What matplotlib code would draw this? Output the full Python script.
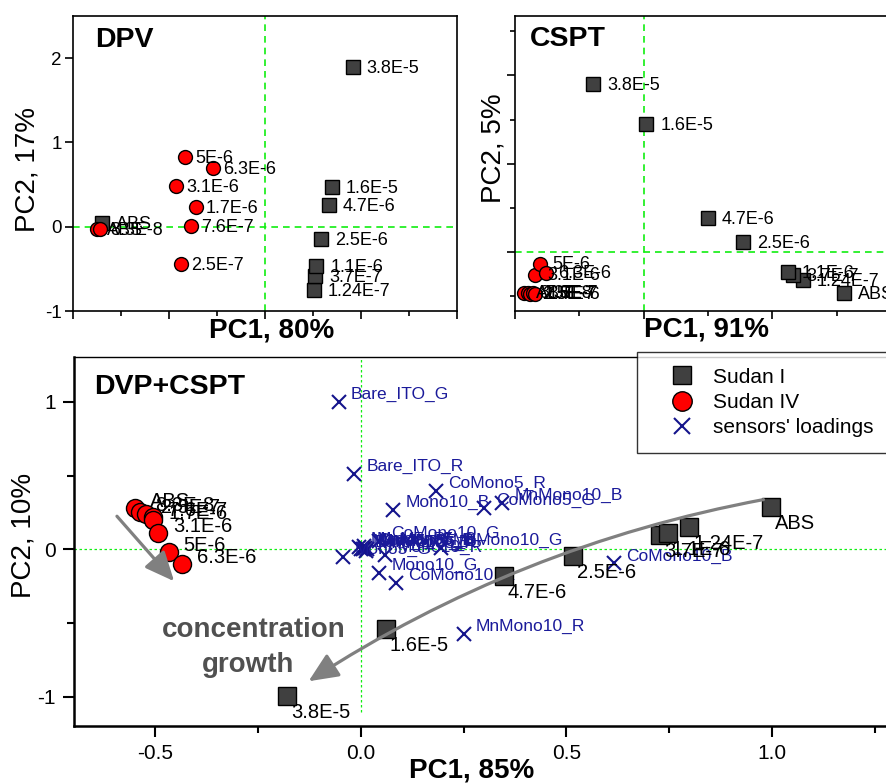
import matplotlib
matplotlib.use("Agg")
import matplotlib.pyplot as plt
from matplotlib.patches import FancyArrowPatch
from matplotlib.lines import Line2D

plt.rcParams['font.family'] = ['Liberation Sans', 'DejaVu Sans']
plt.rcParams['axes.unicode_minus'] = False

W, H = 886, 783

# ---- DPV scores ----
dpv_s1_lab = ['ABS', '1.24E-7', '3.7E-7', '1.1E-6', '2.5E-6', '4.7E-6', '1.6E-5', '3.8E-5']
dpv_s1_x = [-1.70, 0.507, 0.521, 0.535, 0.580, 0.663, 0.694, 0.913]
dpv_s1_y = [0.04, -0.754, -0.587, -0.468, -0.151, 0.258, 0.476, 1.893]
dpv_s4_lab = ['ABS', '8.3E-8', '2.5E-7', '7.6E-7', '1.7E-6', '3.1E-6', '5E-6', '6.3E-6']
dpv_s4_x = [-1.753, -1.719, -0.878, -0.774, -0.722, -0.927, -0.830, -0.538]
dpv_s4_y = [-0.032, -0.032, -0.444, 0.008, 0.230, 0.484, 0.833, 0.694]

# ---- CSPT scores ----
cspt_s1_lab = dpv_s1_lab
cspt_s1_x = [1.559, 1.235, 1.157, 1.119, 0.77, 0.50, 0.02, -0.39]
cspt_s1_y = [-0.469, -0.321, -0.264, -0.226, 0.11, 0.38, 1.45, 1.90]
cspt_s4_lab = dpv_s4_lab
cspt_s4_x = [-0.927, -0.902, -0.881, -0.863, -0.842, -0.842, -0.803, -0.759]
cspt_s4_y = [-0.464, -0.464, -0.472, -0.464, -0.479, -0.264, -0.131, -0.238]

# ---- DPV+CSPT biplot ----
bi_s1_lab = dpv_s1_lab
bi_s1_x = [0.998, 0.799, 0.728, 0.747, 0.515, 0.348, 0.061, -0.179]
bi_s1_y = [0.289, 0.153, 0.097, 0.112, -0.045, -0.181, -0.542, -0.994]
bi_s4_lab = dpv_s4_lab
bi_s4_x = [-0.549, -0.537, -0.522, -0.506, -0.505, -0.494, -0.468, -0.436]
bi_s4_y = [0.278, 0.255, 0.239, 0.221, 0.199, 0.112, -0.016, -0.100]

sensor_lab = ['Bare_ITO_G', 'Bare_ITO_R', 'CoMono5_R', 'Mono10_B', 'CoMono5_G', 'MnMono10_B',
              'MnMono10_R', 'CoMono10_B', 'CoMono10_R', 'Mono10_G', 'Mono5_G',
              'Mono5_R', 'Mono5_B', 'Bare_ITO_B', 'CoMono5_B', 'MnMono5_R', 'MnMono5_G',
              'MnMono5_B', 'Mono10_R', 'CoMono10_G', 'MnMono10_G']
sensor_x = [-0.054, -0.016, 0.183, 0.079, 0.300, 0.344,
            0.251, 0.616, 0.086, 0.045, -0.044,
            -0.005, 0.000, 0.005, 0.010, 0.012, 0.008,
            0.015, 0.059, 0.045, 0.195]
sensor_y = [1.000, 0.510, 0.397, 0.266, 0.282, 0.316,
            -0.574, -0.095, -0.226, -0.159, -0.050,
            0.015, 0.005, 0.000, 0.012, -0.008, 0.020,
            0.005, -0.039, 0.060, 0.010]

# arrows (start, end) in PC units
arrow_s1 = [(0.986, 0.341), (-0.133, -0.904)]
arrow_s4 = [(-0.598, 0.239), (-0.450, -0.230)]

SQ = dict(marker='s', mfc='#404040', mec='black', mew=1.0, ls='none')
CI = dict(marker='o', mfc='#ff0000', mec='black', mew=1.0, ls='none')
GREEN = '#11ee11'
BLUE = '#1a1a9a'
PX = 0.72  # points per pixel at dpi 100


def box(l, t, w, h):
    return [l / W, 1 - (t + h) / H, w / W, h / H]


def label_points(ax, xs, ys, labs, dx, dy, fs, color='black'):
    for x, y, s in zip(xs, ys, labs):
        ax.annotate(s, (x, y), xytext=(dx * PX, dy * PX), textcoords='offset points',
                    ha='left', va='baseline', fontsize=fs, color=color)


fig = plt.figure(figsize=(W / 100, H / 100), dpi=100)

# ======= DPV =======
ax1 = fig.add_axes(box(73, 16, 384, 295))
ax1.set_xlim(-2, 2)
ax1.set_ylim(-1, 2.5)
ax1.axhline(0, color=GREEN, lw=1.2, ls=(0, (4, 3)), zorder=1)
ax1.axvline(0, color=GREEN, lw=1.2, ls=(0, (4, 3)), zorder=1)
ax1.plot(dpv_s1_x, dpv_s1_y, ms=9.5, **SQ, zorder=3)
ax1.plot(dpv_s4_x, dpv_s4_y, ms=10, **CI, zorder=3)
label_points(ax1, dpv_s1_x, dpv_s1_y, dpv_s1_lab, 14, -6, 13)
label_points(ax1, dpv_s4_x, dpv_s4_y, dpv_s4_lab, 10, -6, 13)
ax1.set_xticks([-2, -1, 0, 1, 2])
ax1.set_xticks([-1.5, -0.5, 0.5, 1.5], minor=True)
ax1.set_xticklabels([])
ax1.set_yticks([-1, 0, 1, 2])
ax1.set_yticklabels(['-1', '0', '1', '2'])

# ======= CSPT =======
ax2 = fig.add_axes(box(515, 16, 386, 295))
ax2.set_xlim(-1, 2)
ax2.set_ylim(-0.668, 2.672)
ax2.axhline(0, color=GREEN, lw=1.2, ls=(0, (4, 3)), zorder=1)
ax2.axvline(0, color=GREEN, lw=1.2, ls=(0, (4, 3)), zorder=1)
ax2.plot(cspt_s1_x, cspt_s1_y, ms=9.5, **SQ, zorder=3)
ax2.plot(cspt_s4_x, cspt_s4_y, ms=10, **CI, zorder=3)
label_points(ax2, cspt_s1_x, cspt_s1_y, cspt_s1_lab, 14, -6, 13)
label_points(ax2, cspt_s4_x, cspt_s4_y, cspt_s4_lab, 12, -5, 13)
ax2.set_xticks([-1, 0, 1, 2])
ax2.set_xticks([-0.5, 0.5, 1.5], minor=True)
ax2.set_yticks([0, 1, 2])
ax2.set_yticks([-0.5, 0.5, 1.5, 2.5], minor=True)
ax2.set_xticklabels([])
ax2.set_yticklabels([])

for ax in (ax1, ax2):
    for sp in ax.spines.values():
        sp.set_linewidth(1.2)
    ax.tick_params(which='major', direction='out', length=6, width=1.2, labelsize=13.5, pad=2)
    ax.tick_params(which='minor', direction='out', length=3.5, width=1.2)

# ======= DPV + CSPT =======
ax3 = fig.add_axes(box(74, 357, 841, 369))
ax3.set_xlim(-0.698, 1.348)
ax3.set_ylim(-1.197, 1.304)
ax3.axhline(0, color=GREEN, lw=0.9, ls=(0, (2, 2)), zorder=1)
ax3.plot([0, 0], [-1.1, 1.304], color=GREEN, lw=0.9, ls=(0, (2, 2)), zorder=1)
ax3.plot(sensor_x, sensor_y, ls='none', marker='x', ms=10, mew=1.5, color='#14148c', zorder=3)
label_points(ax3, sensor_x, sensor_y, sensor_lab, 12, 3, 12.5, color=BLUE)
ax3.plot(bi_s1_x, bi_s1_y, ms=12.5, **SQ, zorder=4)
ax3.plot(bi_s4_x, bi_s4_y, ms=13, **CI, zorder=4)
label_points(ax3, bi_s1_x, bi_s1_y, bi_s1_lab, 4, -22, 14.5)
label_points(ax3, bi_s4_x, bi_s4_y, bi_s4_lab, 15, 1, 14.5)

for (p0, p1), rad in ((arrow_s1, 0.10), (arrow_s4, 0.0)):
    arr = FancyArrowPatch(p0, p1, connectionstyle=f'arc3,rad={rad}',
                          arrowstyle='-|>,head_length=0.9,head_width=0.4',
                          mutation_scale=20, color='#808080', lw=2.3, zorder=6)
    ax3.add_patch(arr)

ax3.set_xticks([-0.5, 0, 0.5, 1.0])
ax3.set_xticklabels(['-0.5', '0.0', '0.5', '1.0'])
ax3.set_xticks([-0.25, 0.25, 0.75, 1.25], minor=True)
ax3.set_yticks([-1, 0, 1])
ax3.set_yticklabels(['-1', '0', '1'])
ax3.set_yticks([-0.5, 0.5], minor=True)
ax3.spines['left'].set_linewidth(1.8)
ax3.spines['bottom'].set_linewidth(1.8)
ax3.spines['top'].set_linewidth(1.0)
ax3.tick_params(which='major', direction='out', length=8, width=1.5, labelsize=15, pad=5)
ax3.tick_params(which='minor', direction='out', length=5, width=1.5)

handles = [Line2D([], [], ms=13, **SQ),
           Line2D([], [], ms=14, **CI),
           Line2D([], [], ls='none', marker='x', ms=11, mew=1.5, color='#14148c')]
leg = ax3.legend(handles, ['Sudan I', 'Sudan IV', "sensors' loadings"],
                 loc='upper left', bbox_to_anchor=(637 / W, 1 - 352 / H),
                 bbox_transform=fig.transFigure, borderaxespad=0, fontsize=15,
                 frameon=True, fancybox=False, borderpad=0.75, handlelength=2.8,
                 handletextpad=0.1, labelspacing=0.3)
leg.get_frame().set_edgecolor('black')
leg.get_frame().set_linewidth(1.0)
leg.set_zorder(10)

# ---- texts ----
def ftext(px, py, s, **kw):
    fig.text(px / W, 1 - py / H, s, **kw)

ftext(95, 47, 'DPV', fontsize=20.5, fontweight='bold', va='baseline')
ftext(530, 46, 'CSPT', fontsize=20.5, fontweight='bold', va='baseline')
ftext(94, 394, 'DVP+CSPT', fontsize=20.5, fontweight='bold', va='baseline')
ftext(272, 331, 'PC1, 80%', fontsize=20, fontweight='bold', ha='center', va='center')
ftext(707, 329, 'PC1, 91%', fontsize=20, fontweight='bold', ha='center', va='center')
ftext(472, 770, 'PC1, 85%', fontsize=20, fontweight='bold', ha='center', va='center')
ftext(27, 170, 'PC2, 17%', fontsize=20, rotation=90, ha='center', va='center')
ftext(493, 148, 'PC2, 5%', fontsize=20, rotation=90, ha='center', va='center')
ftext(24, 535, 'PC2, 10%', fontsize=20, rotation=90, ha='center', va='center')
ftext(254, 637, 'concentration', fontsize=20, fontweight='bold', color='#505050', ha='center', va='baseline')
ftext(248, 672, 'growth', fontsize=20, fontweight='bold', color='#505050', ha='center', va='baseline')

fig.savefig('out.png', dpi=100)
